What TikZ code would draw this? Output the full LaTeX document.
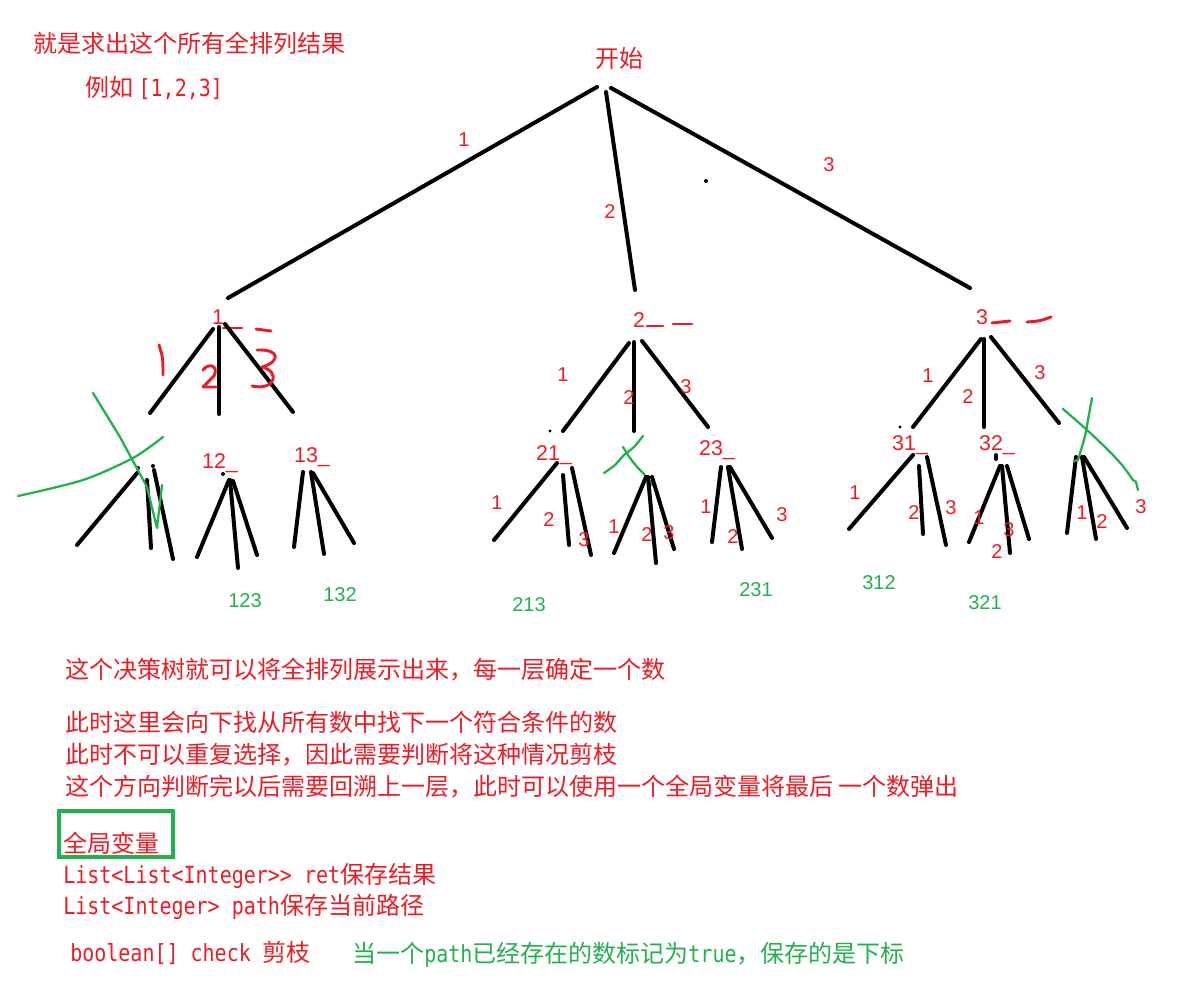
\documentclass[tikz,border=0pt]{standalone}
\usepackage{fontspec}
\usepackage{graphicx}
\newfontfamily\cjk{Noto Sans CJK SC}
\newfontfamily\lsans{Liberation Sans}
\newfontfamily\lmono{DejaVu Sans Mono}
\definecolor{pred}{HTML}{ED1C24}
\definecolor{pgreen}{HTML}{22B14C}
\newcommand{\cj}{\cjk\fontsize{18}{20}\selectfont}
\newcommand{\mo}[1]{\scalebox{1}[1.18]{\lmono\fontsize{15}{18}\selectfont #1}}
\tikzset{
  txt/.style={anchor=west, inner sep=0, text=pred, font=\cj},
  gtxt/.style={anchor=west, inner sep=0, text=pgreen, font=\cj},
  dg/.style={inner sep=0, text=pred, font=\lsans\fontsize{15}{17}\selectfont},
  gdg/.style={inner sep=0, text=pgreen, font=\lsans\fontsize{15}{17}\selectfont},
  lvl/.style={inner sep=0, text=pred, font=\lsans\fontsize{16}{18}\selectfont},
  edge/.style={draw=black, line width=3pt, line cap=round},
  gstroke/.style={draw=pgreen, line width=1.7pt, line cap=round, line join=round},
  rstroke/.style={draw=pred, line width=2.2pt, line cap=round, line join=round},
  dotm/.style={fill=black, draw=none}
}
\begin{document}
\begin{tikzpicture}[x=0.75pt, y=-0.75pt]
\useasboundingbox (0,0) rectangle (1183,1003);
\fill[white] (0,0) rectangle (1183,1003);

% ---- heading text
\node[txt] (title) at (33,43) {就是求出这个所有全排列结果};
\node[txt] (example) at (85,88) {例如 \mo{[1,2,3]}};
\node[inner sep=0, text=pred, font=\cj] (start) at (619,58) {开始};

% ---- root edges
\draw[edge] (597,87) coordinate (r0a) -- (228,298) coordinate (n1t);
\draw[edge] (606,92) coordinate (r0b) -- (635,290) coordinate (n2t);
\draw[edge] (611,88) coordinate (r0c) -- (970,288) coordinate (n3t);
\node[dg] (e1) at (464,140) {1};
\node[dg] (e2) at (610,212) {2};
\node[dg] (e3) at (829,165) {3};
\fill[dotm] (706,181) circle (2);

% ================= subtree 1
\node[lvl] (n1) at (218,317) {1};
\draw[rstroke] (223,328) -- (242,328);
\draw[rstroke] (256,329) -- (271,331);
\draw[edge] (213,329) coordinate (a1) -- (150,413) coordinate (n11t);
\draw[edge] (219,327) coordinate (a2) -- (219,414) coordinate (n12t);
\draw[edge] (225,324) coordinate (a3) -- (293,412) coordinate (n13t);
% handwritten 1 2 3
\draw[rstroke] (159,345) .. controls (163,358) .. (163,375);
\draw[rstroke] (203,370) .. controls (209,362) and (219,366) .. (214,376) -- (203,387) -- (216,387);
\draw[rstroke] (257,350) .. controls (281,349) and (280,362) .. (262,367) .. controls (281,372) and (275,391) .. (252,386);

% pruned 11
\draw[edge] (138,472) -- (77,545);
\draw[edge] (147,480) -- (151,548);
\draw[edge] (154,470) -- (173,559);
\fill[dotm] (138,468) circle (2);
\fill[dotm] (153,466) circle (2);
\draw[gstroke] plot[smooth] coordinates {(18,496) (83,480) (133,458) (163,437)};
\draw[gstroke] (93,393) -- (120,437) -- (147,487) -- (157,528) -- (162,485);

% 12_
\node[lvl] (n12) at (220,463) {12\_};
\fill[dotm] (223,474) circle (2);
\draw[edge] (229,480) -- (197,557);
\draw[edge] (230,480) -- (238,568);
\draw[edge] (233,481) -- (257,555);
\node[gdg] (p123) at (245,601) {123};

% 13_
\node[lvl] (n13) at (312,457) {13\_};
\draw[edge] (303,472) -- (294,547);
\draw[edge] (311,472) -- (324,554);
\draw[edge] (313,473) -- (354,543);
\node[gdg] (p132) at (340,595) {132};

% ================= subtree 2
\node[lvl] (n2) at (639,320) {2};
\draw[rstroke] (647,326) -- (663,326);
\draw[rstroke] (673,324) -- (692,324);
\draw[edge] (629,343) -- (563,431);
\draw[edge] (634,342) -- (634,431);
\draw[edge] (642,341) -- (708,427);
\node[dg] at (563,375) {1};
\node[dg] at (629,398) {2};
\node[dg] at (686,387) {3};
\fill[dotm] (550,431) circle (1.6);

% 21_
\node[lvl] (n21) at (554,455) {21\_};
\draw[edge] (557,463) -- (494,540);
\draw[edge] (563,475) -- (569,545);
\draw[edge] (572,468) -- (591,555);
\node[dg] at (497,503) {1};
\node[dg] at (549,520) {2};
\node[dg] at (584,540) {3};
\node[gdg] (p213) at (529,605) {213};

% pruned 22
\draw[gstroke] plot[smooth] coordinates {(604,473) (615,465) (624,455) (634,447) (643,436)};
\draw[gstroke] plot[smooth] coordinates {(623,447) (630,458) (638,468) (644,474) (652,485)};
\draw[edge] (646,477) -- (614,553);
\draw[edge] (648,477) -- (656,563);
\draw[edge] (652,477) -- (674,549);
\node[dg] at (614,527) {1};
\node[dg] at (647,535) {2};
\node[dg] at (669,533) {3};

% 23_
\node[lvl] (n23) at (717,450) {23\_};
\draw[edge] (721,467) -- (712,542);
\draw[edge] (728,467) -- (742,549);
\draw[edge] (730,467) -- (772,538);
\node[dg] at (706,507) {1};
\node[dg] at (733,537) {2};
\node[dg] at (782,515) {3};
\node[gdg] (p231) at (756,590) {231};

% ================= subtree 3
\node[lvl] (n3) at (982,317) {3};
\draw[rstroke] (992,323) -- (1010,321);
\draw[rstroke] (1027,322) .. controls (1040,321) .. (1051,317);
\draw[edge] (981,339) -- (913,427);
\draw[edge] (984,339) -- (984,427);
\draw[edge] (991,337) -- (1059,423);
\fill[dotm] (900,427) circle (1.6);
\node[dg] at (928,376) {1};
\node[dg] at (968,397) {2};
\node[dg] at (1040,373) {3};

% 31_
\node[lvl] (n31) at (910,445) {31\_};
\draw[edge] (913,455) -- (849,529);
\draw[edge] (919,466) -- (923,534);
\draw[edge] (927,457) -- (946,545);
\node[dg] at (855,493) {1};
\node[dg] at (914,513) {2};
\node[dg] at (951,508) {3};
\node[gdg] (p312) at (879,583) {312};

% 32_
\node[lvl] (n32) at (997,445) {32\_};
\draw[edge] (996,455) -- (996,459);
\draw[edge] (1000,466) -- (969,542);
\draw[edge] (1002,466) -- (1010,553);
\draw[edge] (1007,466) -- (1029,539);
\node[dg] at (979,518) {1};
\node[dg] at (1009,530) {3};
\node[dg] at (997,552) {2};
\node[gdg] (p321) at (985,603) {321};

% pruned 33
\draw[edge] (1076,457) -- (1067,533);
\draw[edge] (1082,457) -- (1096,539);
\draw[edge] (1084,457) -- (1127,528);
\node[dg] at (1082,513) {1};
\node[dg] at (1102,522) {2};
\node[dg] at (1141,507) {3};
\draw[gstroke] plot[smooth] coordinates {(1092,398) (1088,420) (1085,436) (1078,460)} -- (1074,461);
\draw[gstroke] plot[smooth] coordinates {(1063,409) (1087,430) (1108,450) (1122,465) (1133,480)} -- (1136,482) -- (1138,490);

% ---- explanation text
\node[txt] (l1) at (65,670) {这个决策树就可以将全排列展示出来，每一层确定一个数};
\node[txt] (l2) at (65,722) {此时这里会向下找从所有数中找下一个符合条件的数};
\node[txt] (l3) at (65,755) {此时不可以重复选择，因此需要判断将这种情况剪枝};
\node[txt] (l4) at (65,787) {这个方向判断完以后需要回溯上一层，此时可以使用一个全局变量将最后 一个数弹出};
\draw[draw=pgreen, line width=2.4pt] (59,811) rectangle (173,857);
\node[txt] (gv) at (63,843) {全局变量};
\node[txt] (ret) at (63,876) {\mo{List<List<Integer>> ret}保存结果};
\node[txt] (path) at (63,907) {\mo{List<Integer> path}保存当前路径};
\node[txt] (chk) at (70,953) {\mo{boolean[] check }剪枝};
\node[gtxt] (note) at (352,955) {当一个\mo{path}已经存在的数标记为\mo{true}，保存的是下标};
\end{tikzpicture}
\end{document}
